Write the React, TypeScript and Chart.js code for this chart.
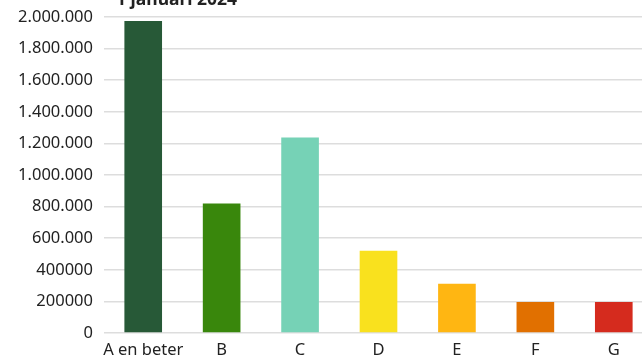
import { useEffect, useRef } from "react";
import { Chart, registerables } from "chart.js";

Chart.register(...registerables);

// Energielabels van woningen, stand 1 januari 2024
const labels = ["A en beter", "B", "C", "D", "E", "F", "G"];
const counts = [1975000, 819000, 1238000, 521000, 311000, 196000, 196000];
const barColors = ["#275937", "#39870c", "#76d2b6", "#f9e11e", "#ffb612", "#e17000", "#d52b1e"];
const tickValues = [0, 200000, 400000, 600000, 800000, 1000000, 1200000, 1400000, 1600000, 1800000, 2000000];
const tickLabels = ["0", "200000", "400000", "600.000", "800.000", "1.000.000", "1.200.000", "1.400.000", "1.600.000", "1.800.000", "2.000.000"];
const titleText = "1 januari 2024";

const FONT = "'Noto Sans', sans-serif";
const TEXT = "#222222";

const titlePlugin = {
  id: "topTitle",
  afterDraw(chart: Chart) {
    const ctx = chart.ctx;
    ctx.save();
    ctx.font = `bold 17.5px ${FONT}`;
    ctx.fillStyle = TEXT;
    ctx.textAlign = "left";
    ctx.textBaseline = "alphabetic";
    ctx.fillText(titleText, 116, 5);
    ctx.restore();
  },
};

export default function App() {
  const ref = useRef<HTMLCanvasElement | null>(null);

  useEffect(() => {
    if (!ref.current) return;
    const chart = new Chart(ref.current, {
      type: "bar",
      data: {
        labels,
        datasets: [
          {
            data: counts,
            backgroundColor: barColors,
            borderWidth: 0,
            barPercentage: 0.6,
            categoryPercentage: 0.8,
          },
        ],
      },
      options: {
        responsive: false,
        animation: false,
        layout: { padding: { top: 17, right: 7, left: 0, bottom: 0 } },
        plugins: {
          legend: { display: false },
          title: { display: false },
          tooltip: { enabled: false },
        },
        scales: {
          x: {
            grid: { display: false, drawTicks: false },
            border: { display: false },
            ticks: {
              color: TEXT,
              font: { family: FONT, size: 16.5 },
              padding: 7,
              maxRotation: 0,
              autoSkip: false,
            },
            afterFit(scale: any) {
              scale.height = 47;
            },
          },
          y: {
            min: 0,
            max: 2000000,
            afterBuildTicks(scale: any) {
              scale.ticks = tickValues.map((v) => ({ value: v }));
            },
            grid: { color: "#dddddd", lineWidth: 1.5, drawTicks: false },
            border: { display: false },
            ticks: {
              color: TEXT,
              font: { family: FONT, size: 16.5 },
              padding: 11,
              callback(value: any) {
                const i = tickValues.indexOf(Number(value));
                return i >= 0 ? tickLabels[i] : "";
              },
            },
            afterFit(scale: any) {
              scale.width = 104;
              // the top label may overhang the plot; the layout padding covers it
              scale.paddingTop = 0;
              scale.paddingBottom = 0;
            },
          },
        },
      },
      plugins: [titlePlugin],
    });
    return () => chart.destroy();
  }, []);

  return (
    <div style={{ position: "fixed", left: 0, top: 0, width: 642, height: 356, overflow: "hidden", background: "#fff" }}>
      <canvas ref={ref} width={660} height={380} style={{ display: "block", width: 660, height: 380 }} />
    </div>
  );
}
